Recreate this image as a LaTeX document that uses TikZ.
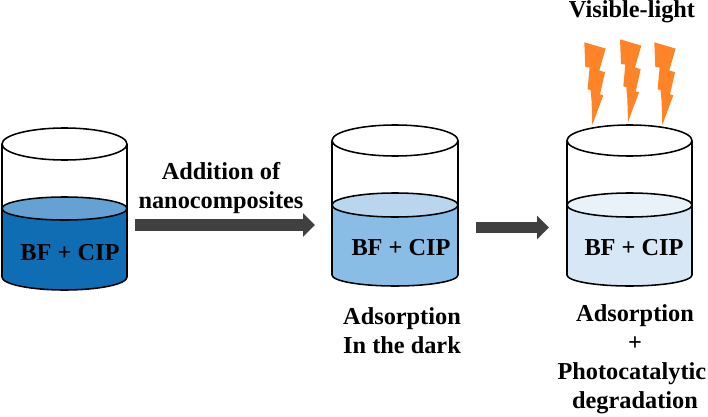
\documentclass[tikz,border=0pt]{standalone}
\usepackage{fontspec}
\setmainfont{Liberation Serif}
\usetikzlibrary{arrows.meta}
\definecolor{darkliquid}{HTML}{0F6DB3}
\definecolor{darksurface}{HTML}{65A2D3}
\definecolor{midliquid}{HTML}{8ABDE6}
\definecolor{midsurface}{HTML}{BAD6EE}
\definecolor{paleliquid}{HTML}{D8E7F5}
\definecolor{palesurface}{HTML}{E9F2F9}
\definecolor{boltorange}{HTML}{FF8427}
\definecolor{arrowgray}{HTML}{404040}
\tikzset{
  glass/.style={black, line width=1.1pt},
  label/.style={font=\fontsize{17.3}{20.6}\selectfont\bfseries, align=center, inner sep=0pt, text=black},
  fatarrow/.style={arrowgray, line width=8.2pt, -{Triangle[length=8.5pt,width=16.4pt]}},
  bolt/.style={boltorange}
}
\begin{document}
\begin{tikzpicture}[x=0.025cm,y=0.025cm]
  \useasboundingbox (0,0) rectangle (708,416);
  % beakers: centre, half width, then top, surface, bottom (height, radius)
  \foreach \cx/\rx/\yt/\rt/\ys/\rs/\yb/\rb/\liq/\sur in {
    64.5/62.5/272/16/207.5/11.5/139/13/darkliquid/darksurface,
    395/63/275.5/15.5/211/12/141/11/midliquid/midsurface,
    629.5/62.5/275.5/15.5/211/12/141/11/paleliquid/palesurface}{
    \fill[\liq] (\cx-\rx,\ys) -- (\cx-\rx,\yb) arc[start angle=180,end angle=360,x radius=\rx,y radius=\rb] -- (\cx+\rx,\ys) -- cycle;
    \draw[glass,fill=\sur] (\cx,\ys) ellipse[x radius=\rx,y radius=\rs];
    \draw[glass] (\cx-\rx,\yt) -- (\cx-\rx,\yb) arc[start angle=180,end angle=360,x radius=\rx,y radius=\rb] -- (\cx+\rx,\yt);
    \draw[glass,fill=white] (\cx,\yt) ellipse[x radius=\rx,y radius=\rt];
  }
  % light
  \foreach \bx/\by in {584.3/373.7,620/376.7,654.3/373.7}{
    \fill[bolt] (\bx,\by) -- ++(21.3,-6.3) -- ++(-6.3,-21.7) -- ++(5.7,-2) -- ++(-5,-22) -- ++(3.3,-1) -- ++(-11,-29.7) -- ++(-0.7,23.4) -- ++(-1,11.6) -- ++(-3,0.7) -- ++(2,21.7) -- ++(-4.3,0.6) -- cycle;
  }
  % arrows
  \coordinate (feedstart) at (135,191);
  \coordinate (feedend) at (315,191);
  \coordinate (lightstart) at (476,188.5);
  \coordinate (lightend) at (549,188.5);
  \draw[fatarrow] (feedstart) -- (feedend);
  \draw[fatarrow] (lightstart) -- (lightend);
  % labels
  \node[label] (mixa) at (70,163) {BF + CIP};
  \node[label] (mixb) at (401,168) {BF + CIP};
  \node[label] (mixc) at (634,168) {BF + CIP};
  \node[label] (addition) at (221,227.5) {Addition of\\nanocomposites};
  \node[label] (dark) at (402,85) {Adsorption\\In the dark};
  \node[label] (photo) at (635,57) {Adsorption\\+\\\hbox{Photocatalytic\kern4.5pt}\\degradation};
  \node[label] (visible) at (632,404) {Visible-light};
\end{tikzpicture}
\end{document}
